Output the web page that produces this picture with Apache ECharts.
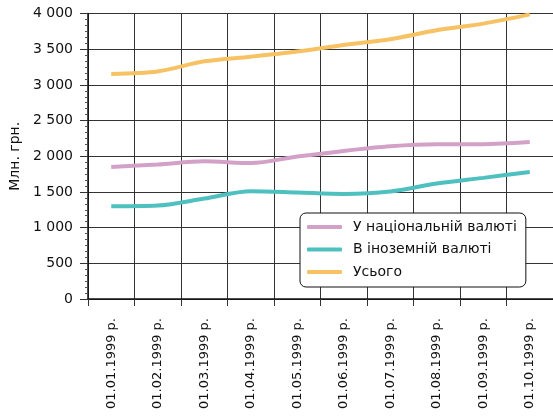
<!DOCTYPE html>
<html>
<head>
<meta charset="utf-8">
<script src="https://cdn.jsdelivr.net/npm/echarts@6/dist/echarts.min.js"></script>
<style>
  html, body { margin: 0; padding: 0; background: #fff; }
  #chart { width: 553px; height: 419px; }
</style>
</head>
<body>
<div id="chart"></div>
<script>
// Monthly dates (1999)
const categories = [
  '01.01.1999 р.', '01.02.1999 р.', '01.03.1999 р.', '01.04.1999 р.', '01.05.1999 р.',
  '01.06.1999 р.', '01.07.1999 р.', '01.08.1999 р.', '01.09.1999 р.', '01.10.1999 р.'
];

// Values, млн. грн.
const nationalCurrency = [1850, 1885, 1930, 1905, 1995, 2075, 2140, 2168, 2168, 2198];
const foreignCurrency  = [1300, 1310, 1407, 1510, 1492, 1472, 1505, 1617, 1697, 1780];
const total            = [3153, 3188, 3330, 3395, 3468, 3560, 3640, 3765, 3858, 3988];

const seriesNames = ['У національній валюті', 'В іноземній валюті', 'Усього'];
const yTicks = { min: 0, max: 4000, step: 500 };

const FONT = '"DejaVu Sans", Verdana, sans-serif';
const colors = ['#d3a1c8', '#4fc0c0', '#f7c263'];

const chart = echarts.init(document.getElementById('chart'), null, { renderer: 'canvas' });

function lineSeries(name, data, color) {
  return {
    name: name,
    type: 'line',
    data: data,
    smooth: 0.3,
    symbol: 'none',
    lineStyle: { color: color, width: 4 },
    itemStyle: { color: color },
    z: 3
  };
}

chart.setOption({
  animation: false,
  grid: { left: 85, right: -3, top: 13.5, bottom: 120, containLabel: false },
  legend: {
    orient: 'vertical',
    left: 300,
    top: 213,
    padding: [6, 9, 7, 7],
    itemWidth: 35,
    itemHeight: 4,
    itemGap: 6.5,
    icon: 'roundRect',
    backgroundColor: '#fff',
    borderColor: '#111',
    borderWidth: 1,
    borderRadius: 6,
    textStyle: {
      fontFamily: FONT, fontSize: 14, color: '#111', lineHeight: 16,
      padding: [0, 0, 0, 6]
    },
    data: seriesNames
  },
  xAxis: {
    type: 'category',
    data: categories,
    boundaryGap: true,
    axisLine: { lineStyle: { color: '#111', width: 1.5 } },
    axisTick: { show: true, length: 7, alignWithLabel: false, lineStyle: { color: '#333', width: 1 } },
    splitLine: { show: true, lineStyle: { color: '#333', width: 1 } },
    axisLabel: {
      rotate: 90,
      margin: 19,
      interval: 0,
      fontFamily: FONT,
      fontSize: 13,
      color: '#111'
    }
  },
  yAxis: {
    type: 'value',
    min: yTicks.min,
    max: yTicks.max,
    interval: yTicks.step,
    name: 'Млн. грн.',
    nameLocation: 'middle',
    nameGap: 64,
    nameTextStyle: { fontFamily: FONT, fontSize: 14, color: '#111' },
    axisLine: { show: true, lineStyle: { color: '#111', width: 1.5 } },
    axisTick: { show: true, length: 8, lineStyle: { color: '#333', width: 1 } },
    minorTick: { show: true, splitNumber: 6, length: 3, lineStyle: { color: '#555', width: 1 } },
    splitLine: { show: true, lineStyle: { color: '#333', width: 1 } },
    axisLabel: {
      margin: 15,
      fontFamily: FONT,
      fontSize: 14,
      color: '#111',
      formatter: function (v) {
        return String(v).replace(/\B(?=(\d{3})+(?!\d))/g, ' ');
      }
    }
  },
  series: [
    lineSeries(seriesNames[0], nationalCurrency, colors[0]),
    lineSeries(seriesNames[1], foreignCurrency, colors[1]),
    lineSeries(seriesNames[2], total, colors[2])
  ]
});
</script>
</body>
</html>
